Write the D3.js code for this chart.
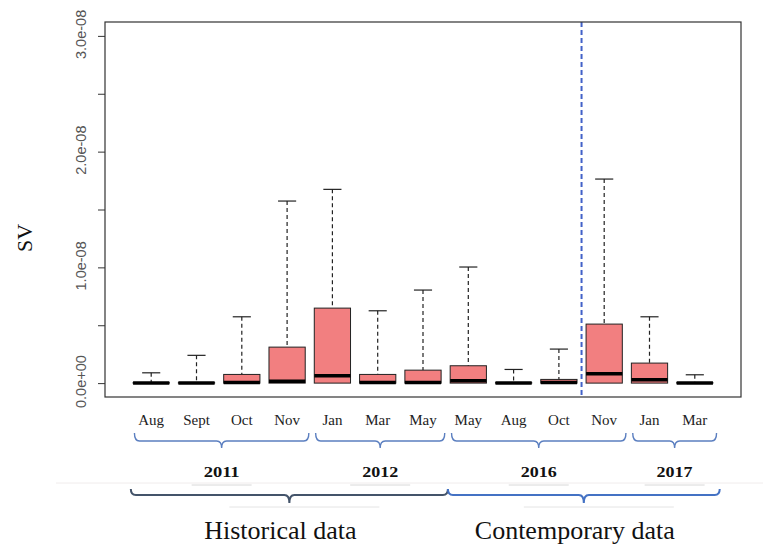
<!DOCTYPE html>
<html>
<head>
<meta charset="utf-8">
<script src="https://cdn.jsdelivr.net/npm/d3@7"></script>
<style>
  body { margin: 0; background: #fff; }
  svg { display: block; }
</style>
</head>
<body>
<div id="container"></div>
<script>
// Data (one box per sampling month)
const months = ['Aug', 'Sept', 'Oct', 'Nov', 'Jan', 'Mar', 'May', 'May', 'Aug', 'Oct', 'Nov', 'Jan', 'Mar'];
const lowerWhisker = [0, 0, 0, 0, 0, 0, 0, 0, 0, 0, 0, 0, 0];
const q1 = [0, 0, 0, 0, 0, 0, 0, 0, 0, 0, 0, 0, 0];
const median = [0.002e-8, 0.002e-8, 0.005e-8, 0.017e-8, 0.063e-8, 0.005e-8, 0.005e-8, 0.02e-8, 0.002e-8, 0.005e-8, 0.08e-8, 0.029e-8, 0.002e-8];
const q3 = [0.004e-8, 0.004e-8, 0.075e-8, 0.311e-8, 0.648e-8, 0.075e-8, 0.112e-8, 0.15e-8, 0.004e-8, 0.032e-8, 0.51e-8, 0.173e-8, 0.004e-8];
const upperWhisker = [0.089e-8, 0.24e-8, 0.573e-8, 1.573e-8, 1.674e-8, 0.625e-8, 0.804e-8, 1.003e-8, 0.118e-8, 0.294e-8, 1.763e-8, 0.573e-8, 0.072e-8];

const years = ['2011', '2012', '2016', '2017'];
const yearFirst = [1, 5, 8, 12];
const yearLast = [4, 7, 11, 13];

const periods = ['Historical data', 'Contemporary data'];
const periodFirst = [1, 8];
const periodLast = [7, 13];

const yTicks = [0, 0.5e-8, 1e-8, 1.5e-8, 2e-8, 2.5e-8, 3e-8];
const yTickLabels = ['0.0e+00', '', '1.0e-08', '', '2.0e-08', '', '3.0e-08'];
const splitAt = 10.5;

const svgWidth = 763;
const svgHeight = 547;
const frame = { left: 105, right: 741, top: 22, bottom: 397 };
const serif = "'Liberation Serif', 'Times New Roman', serif";
const sans = "'Liberation Sans', Arial, sans-serif";

const svg = d3
  .select('#container')
  .append('svg')
  .attr('width', svgWidth)
  .attr('height', svgHeight)
  .style('background', '#fff');

const xScale = d3.scaleLinear().domain([-0.02, 14.02]).range([frame.left, frame.right]);
const yScale = d3.scaleLinear().domain([-0.12e-8, 3.12e-8]).range([frame.bottom, frame.top]);

const boxHalf = 0.4;
const capHalf = 0.2;
const idx = d3.range(months.length);

// Y-AXIS
const yAxis = d3
  .axisLeft(yScale)
  .tickValues(yTicks)
  .tickSize(7)
  .tickSizeOuter(0)
  .tickFormat((d, i) => yTickLabels[i]);

const yAxisG = svg
  .append('g')
  .attr('transform', `translate(${frame.left},0)`)
  .call(yAxis);

yAxisG.select('.domain').remove();
yAxisG.selectAll('line').attr('stroke', '#333');
yAxisG
  .selectAll('text')
  .attr('x', 0)
  .attr('y', 0)
  .attr('dy', 0)
  .attr('text-anchor', 'middle')
  .attr('transform', 'translate(-19,-2) rotate(-90)')
  .style('font-family', sans)
  .style('font-size', '14.5px')
  .attr('fill', '#555');

svg
  .append('text')
  .attr('transform', 'translate(32,238) rotate(-90)')
  .attr('text-anchor', 'middle')
  .style('font-family', serif)
  .style('font-size', '22px')
  .attr('fill', '#111')
  .text('SV');

// Whiskers
const boxes = svg.append('g');

boxes
  .selectAll('line.whisker')
  .data(idx)
  .enter()
  .append('line')
  .attr('class', 'whisker')
  .attr('x1', i => xScale(i + 1))
  .attr('x2', i => xScale(i + 1))
  .attr('y1', i => yScale(upperWhisker[i]))
  .attr('y2', i => yScale(q3[i]))
  .attr('stroke', '#222')
  .attr('stroke-width', 1.2)
  .attr('stroke-dasharray', '4,3');

boxes
  .selectAll('line.cap')
  .data(idx)
  .enter()
  .append('line')
  .attr('class', 'cap')
  .attr('x1', i => xScale(i + 1 - capHalf))
  .attr('x2', i => xScale(i + 1 + capHalf))
  .attr('y1', i => yScale(upperWhisker[i]))
  .attr('y2', i => yScale(upperWhisker[i]))
  .attr('stroke', '#222')
  .attr('stroke-width', 1.2);

// Boxes
boxes
  .selectAll('rect')
  .data(idx)
  .enter()
  .append('rect')
  .attr('x', i => xScale(i + 1 - boxHalf))
  .attr('width', i => xScale(i + 1 + boxHalf) - xScale(i + 1 - boxHalf))
  .attr('y', i => yScale(q3[i]))
  .attr('height', i => yScale(q1[i]) - yScale(q3[i]))
  .attr('fill', '#f27f80')
  .attr('stroke', '#222')
  .attr('stroke-width', 1);

boxes
  .selectAll('line.median')
  .data(idx)
  .enter()
  .append('line')
  .attr('class', 'median')
  .attr('x1', i => xScale(i + 1 - boxHalf))
  .attr('x2', i => xScale(i + 1 + boxHalf))
  .attr('y1', i => yScale(median[i]))
  .attr('y2', i => yScale(median[i]))
  .attr('stroke', '#000')
  .attr('stroke-width', 3.5);

// Split line between 2016 Oct and Nov
svg
  .append('line')
  .attr('x1', xScale(splitAt))
  .attr('x2', xScale(splitAt))
  .attr('y1', frame.top)
  .attr('y2', frame.bottom)
  .attr('stroke', '#4262c8')
  .attr('stroke-width', 2)
  .attr('stroke-dasharray', '5,3');

// Frame
svg
  .append('rect')
  .attr('x', frame.left)
  .attr('y', frame.top)
  .attr('width', frame.right - frame.left)
  .attr('height', frame.bottom - frame.top)
  .attr('fill', 'none')
  .attr('stroke', '#333')
  .attr('stroke-width', 1.2);

// Month labels
svg
  .selectAll('text.month')
  .data(months)
  .enter()
  .append('text')
  .attr('class', 'month')
  .attr('x', (d, i) => xScale(i + 1))
  .attr('y', 425)
  .attr('text-anchor', 'middle')
  .style('font-family', serif)
  .style('font-size', '15px')
  .attr('fill', '#222')
  .text(d => d);

// Braces
const bracePath = (x0, x1, top, base, tip) => {
  const mid = (x0 + x1) / 2;
  return `M${x0},${top} Q${x0},${base} ${x0 + 5},${base} L${mid - 5},${base} ` +
    `Q${mid},${base} ${mid},${tip} Q${mid},${base} ${mid + 5},${base} ` +
    `L${x1 - 5},${base} Q${x1},${base} ${x1},${top}`;
};

// faint leftovers of text boxes
svg
  .append('line')
  .attr('x1', 56)
  .attr('x2', svgWidth)
  .attr('y1', 483)
  .attr('y2', 483)
  .attr('stroke', '#f0ecec')
  .attr('stroke-width', 1);

years.forEach((y, i) => {
  const x0 = xScale(yearFirst[i] - 0.37);
  const x1 = xScale(yearLast[i] + 0.48);
  const mid = (x0 + x1) / 2;

  svg
    .append('path')
    .attr('d', bracePath(x0, x1, 433, 441, 448))
    .attr('fill', 'none')
    .attr('stroke', '#5b7fc0')
    .attr('stroke-width', 1.4);

  svg
    .append('line')
    .attr('x1', mid - 30)
    .attr('x2', mid + 30)
    .attr('y1', 485)
    .attr('y2', 485)
    .attr('stroke', '#d8d8d8');

  svg
    .append('text')
    .attr('x', mid)
    .attr('y', 477)
    .attr('text-anchor', 'middle')
    .attr('textLength', 36)
    .attr('lengthAdjust', 'spacingAndGlyphs')
    .style('font-family', serif)
    .style('font-size', '15px')
    .style('font-weight', 'bold')
    .attr('fill', '#111')
    .text(y);
});

const periodColors = ['#44546a', '#4472c4'];

periods.forEach((p, i) => {
  const x0 = xScale(periodFirst[i] - 0.45);
  const x1 = xScale(periodLast[i] + 0.55);
  const mid = (x0 + x1) / 2;

  svg
    .append('path')
    .attr('d', bracePath(x0, x1, 489, 495, 503))
    .attr('fill', 'none')
    .attr('stroke', periodColors[i])
    .attr('stroke-width', 2);

  svg
    .append('line')
    .attr('x1', mid - 60)
    .attr('x2', mid + 90)
    .attr('y1', 507)
    .attr('y2', 507)
    .attr('stroke', '#e4e4e4');

  svg
    .append('text')
    .attr('x', mid - 9)
    .attr('y', 539)
    .attr('text-anchor', 'middle')
    .style('font-family', serif)
    .style('font-size', '26px')
    .attr('fill', '#111')
    .text(p);
});
</script>
</body>
</html>
